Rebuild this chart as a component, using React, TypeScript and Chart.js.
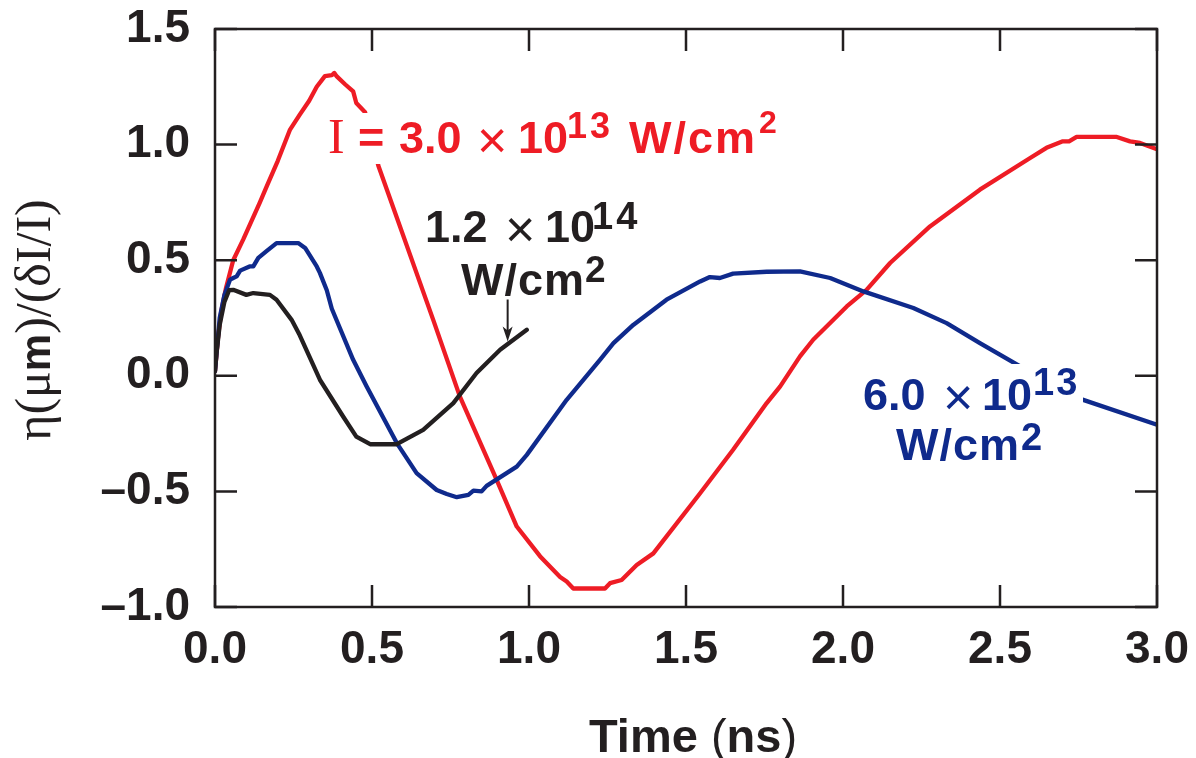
import React, { useEffect, useRef } from "react";
import { Chart, registerables } from "chart.js";

Chart.register(...registerables);

// Axis ticks
const xTickValues = [0, 0.5, 1.0, 1.5, 2.0, 2.5, 3.0];
const xTickLabels = ["0.0", "0.5", "1.0", "1.5", "2.0", "2.5", "3.0"];
const yTickValues = [-1.0, -0.5, 0.0, 0.5, 1.0, 1.5];
const yTickLabels = ["\u20131.0", "\u20130.5", "0.0", "0.5", "1.0", "1.5"];

// I = 3.0 x 10^13 W/cm^2
const redTime = [0, 0.01, 0.02, 0.035, 0.058, 0.09, 0.143, 0.165, 0.2, 0.239, 0.27, 0.3, 0.324, 0.35, 0.372, 0.38, 0.387, 0.415, 0.44, 0.45, 0.478, 0.52, 0.695, 0.78, 0.897, 0.961, 1.035, 1.099, 1.12, 1.141, 1.242, 1.258, 1.295, 1.343, 1.396, 1.545, 1.65, 1.757, 1.8, 1.863, 1.905, 2.012, 2.075, 2.15, 2.277, 2.436, 2.596, 2.648, 2.7, 2.72, 2.744, 2.872, 2.914, 2.946, 3.0];
const redEta = [0.02, 0.17, 0.28, 0.38, 0.5, 0.59, 0.75, 0.82, 0.93, 1.065, 1.13, 1.19, 1.25, 1.296, 1.3, 1.31, 1.296, 1.26, 1.23, 1.18, 1.14, 0.91, 0.242, -0.09, -0.45, -0.652, -0.78, -0.87, -0.89, -0.92, -0.92, -0.897, -0.883, -0.818, -0.768, -0.508, -0.32, -0.118, -0.046, 0.084, 0.156, 0.3, 0.372, 0.488, 0.646, 0.805, 0.942, 0.986, 1.014, 1.014, 1.033, 1.033, 1.014, 1.007, 0.98];

// 6.0 x 10^13 W/cm^2
const blueTime = [0, 0.005, 0.015, 0.03, 0.048, 0.058, 0.069, 0.08, 0.11, 0.122, 0.138, 0.165, 0.196, 0.265, 0.287, 0.324, 0.334, 0.356, 0.372, 0.44, 0.483, 0.579, 0.642, 0.706, 0.738, 0.77, 0.807, 0.823, 0.849, 0.865, 0.961, 0.993, 1.12, 1.226, 1.269, 1.332, 1.438, 1.545, 1.576, 1.608, 1.65, 1.757, 1.863, 1.959, 2.065, 2.224, 2.33, 2.436, 2.574, 2.765, 3.0];
const blueEta = [0.02, 0.1, 0.25, 0.35, 0.416, 0.423, 0.43, 0.455, 0.473, 0.473, 0.51, 0.54, 0.574, 0.574, 0.553, 0.473, 0.445, 0.37, 0.29, 0.069, -0.046, -0.291, -0.421, -0.494, -0.511, -0.525, -0.515, -0.497, -0.5, -0.476, -0.393, -0.342, -0.104, 0.069, 0.141, 0.22, 0.329, 0.408, 0.427, 0.423, 0.442, 0.45, 0.452, 0.423, 0.365, 0.293, 0.228, 0.141, 0.033, -0.104, -0.212];

// 1.2 x 10^14 W/cm^2
const blackTime = [0, 0.005, 0.015, 0.03, 0.045, 0.058, 0.1, 0.122, 0.175, 0.196, 0.244, 0.27, 0.334, 0.408, 0.45, 0.494, 0.579, 0.663, 0.759, 0.833, 0.908, 0.993];
const blackEta = [0.02, 0.1, 0.22, 0.32, 0.37, 0.372, 0.35, 0.358, 0.35, 0.329, 0.242, 0.175, -0.017, -0.176, -0.263, -0.296, -0.296, -0.234, -0.118, 0.012, 0.113, 0.199];

// Arrow pointing at the 1.2 x 10^14 curve (time, tail eta, tip eta)
const arrowTime = 0.932;
const arrowFrom = 0.33;
const arrowTo = 0.148;

const RED = "#ee1c25";
const BLUE = "#0f2a8c";
const INK = "#231f20";

const SANS = "'Liberation Sans', Arial, Helvetica, sans-serif";
const SERIF = "'Liberation Serif', 'Times New Roman', serif";

type Run = { text: string; dx: number; font: string; dy?: number; spacing?: number };

function drawRuns(ctx: CanvasRenderingContext2D, runs: Run[], x: number, y: number, color: string) {
  ctx.save();
  ctx.fillStyle = color;
  ctx.textBaseline = "alphabetic";
  ctx.textAlign = "left";
  for (const r of runs) {
    ctx.font = r.font;
    (ctx as any).letterSpacing = `${r.spacing || 0}px`;
    ctx.fillText(r.text, x + r.dx, y + (r.dy || 0));
  }
  (ctx as any).letterSpacing = "0px";
  ctx.restore();
}

function drawFlow(ctx: CanvasRenderingContext2D, runs: { text: string; font: string }[], cx: number, y: number) {
  let w = 0;
  for (const r of runs) {
    ctx.font = r.font;
    w += ctx.measureText(r.text).width;
  }
  let x = cx - w / 2;
  for (const r of runs) {
    ctx.font = r.font;
    ctx.fillText(r.text, x, y);
    x += ctx.measureText(r.text).width;
  }
}

const pts = (xs: number[], ys: number[]) => xs.map((x, i) => ({ x, y: ys[i] }));

const decor = {
  id: "decor",
  afterDatasetsDraw(chart: any) {
    const { ctx, chartArea: a, scales } = chart;
    const xs = scales.x;
    const ys = scales.y;

    // white boxes behind the curve labels
    ctx.save();
    ctx.fillStyle = "#ffffff";
    ctx.fillRect(322, 113, 470, 51);
    ctx.fillRect(858, 364, 225, 50);
    ctx.restore();

    const b45 = `bold 45px ${SANS}`;
    const times = `52px ${SANS}`;

    // I = 3.0 x 10^13 W/cm^2
    drawRuns(ctx, [
      { text: "I", dx: 0, font: `50px ${SERIF}` },
      { text: "=", dx: 30, font: b45 },
      { text: "3.0", dx: 71, font: b45 },
      { text: "\u00d7", dx: 149, font: times, dy: 5 },
      { text: "10", dx: 190, font: b45 },
      { text: "13", dx: 239, font: `bold 36px ${SANS}`, dy: -15, spacing: 3 },
      { text: "W/cm", dx: 301, font: b45, spacing: 2 },
      { text: "2", dx: 431, font: `bold 32px ${SANS}`, dy: -20 },
    ], 328, 153, RED);

    // 1.2 x 10^14 W/cm^2
    drawRuns(ctx, [
      { text: "1.2", dx: 0, font: b45 },
      { text: "\u00d7", dx: 80, font: times, dy: 5 },
      { text: "10", dx: 120, font: b45 },
      { text: "14", dx: 167, font: `bold 38px ${SANS}`, dy: -13, spacing: 3 },
    ], 425, 242, INK);
    drawRuns(ctx, [
      { text: "W/cm", dx: 0, font: b45, spacing: 1 },
      { text: "2", dx: 124, font: `bold 37px ${SANS}`, dy: -13 },
    ], 461, 295, INK);

    // 6.0 x 10^13 W/cm^2
    drawRuns(ctx, [
      { text: "6.0", dx: 0, font: b45 },
      { text: "\u00d7", dx: 80, font: times, dy: 5 },
      { text: "10", dx: 119, font: b45 },
      { text: "13", dx: 170, font: `bold 38px ${SANS}`, dy: -15, spacing: 2 },
    ], 863, 410, BLUE);
    drawRuns(ctx, [
      { text: "W/cm", dx: 0, font: b45, spacing: 1 },
      { text: "2", dx: 125, font: `bold 38px ${SANS}`, dy: -10 },
    ], 896, 460, BLUE);

    // arrow
    const ax = xs.getPixelForValue(arrowTime);
    const ay0 = ys.getPixelForValue(arrowFrom);
    const ay1 = ys.getPixelForValue(arrowTo);
    ctx.save();
    ctx.strokeStyle = INK;
    ctx.fillStyle = INK;
    ctx.lineWidth = 2;
    ctx.beginPath();
    ctx.moveTo(ax, ay0);
    ctx.lineTo(ax, ay1 - 10);
    ctx.stroke();
    ctx.beginPath();
    ctx.moveTo(ax, ay1);
    ctx.lineTo(ax - 5, ay1 - 15);
    ctx.lineTo(ax, ay1 - 11);
    ctx.lineTo(ax + 5, ay1 - 15);
    ctx.closePath();
    ctx.fill();
    ctx.restore();

    // frame with inward ticks on all four sides
    const tick = 22;
    ctx.save();
    ctx.strokeStyle = INK;
    ctx.lineWidth = 2.5;
    ctx.strokeRect(a.left, a.top, a.right - a.left, a.bottom - a.top);
    ctx.beginPath();
    for (const v of xTickValues) {
      const px = xs.getPixelForValue(v);
      ctx.moveTo(px, a.bottom);
      ctx.lineTo(px, a.bottom - tick);
      ctx.moveTo(px, a.top);
      ctx.lineTo(px, a.top + tick);
    }
    for (const v of yTickValues) {
      const py = ys.getPixelForValue(v);
      ctx.moveTo(a.left, py);
      ctx.lineTo(a.left + tick, py);
      ctx.moveTo(a.right, py);
      ctx.lineTo(a.right - tick, py);
    }
    ctx.stroke();
    ctx.restore();

    // x axis title
    ctx.save();
    ctx.fillStyle = INK;
    ctx.textBaseline = "alphabetic";
    drawFlow(ctx, [
      { text: "Time ", font: `bold 47px ${SANS}` },
      { text: "(", font: `47px ${SANS}` },
      { text: "ns", font: `bold 47px ${SANS}` },
      { text: ")", font: `47px ${SANS}` },
    ], 693, 752);
    ctx.restore();

    // y axis title
    ctx.save();
    ctx.fillStyle = INK;
    ctx.textBaseline = "alphabetic";
    ctx.translate(50, (a.top + a.bottom) / 2 + 2);
    ctx.rotate(-Math.PI / 2);
    const s50 = `50px ${SERIF}`;
    drawFlow(ctx, [
      { text: "\u03b7(\u03bc", font: s50 },
      { text: "m", font: `bold 42px ${SANS}` },
      { text: ")/(\u03b4I/I)", font: s50 },
    ], 0, 0);
    ctx.restore();
  },
};

export default function App() {
  const canvasRef = useRef<HTMLCanvasElement | null>(null);

  useEffect(() => {
    if (!canvasRef.current) return;
    const tickFont = { family: SANS, size: 46, weight: "bold" as const };
    const chart = new Chart(canvasRef.current, {
      type: "scatter",
      data: {
        datasets: [
          { label: "1.2e14", data: pts(blackTime, blackEta), borderColor: INK },
          { label: "6.0e13", data: pts(blueTime, blueEta), borderColor: BLUE },
          { label: "3.0e13", data: pts(redTime, redEta), borderColor: RED },
        ].map((d) => ({
          ...d,
          showLine: true,
          borderWidth: 4.3,
          pointRadius: 0,
          pointHoverRadius: 0,
          tension: 0,
          borderJoinStyle: "round" as const,
          borderCapStyle: "round" as const,
          fill: false,
        })),
      },
      options: {
        animation: false,
        responsive: true,
        maintainAspectRatio: false,
        events: [],
        layout: { padding: { top: 29, right: 39, left: 0, bottom: 0 } },
        plugins: { legend: { display: false }, tooltip: { enabled: false } },
        scales: {
          x: {
            type: "linear",
            min: 0,
            max: 3,
            grid: { display: false, drawTicks: false },
            border: { display: false },
            afterFit: (s: any) => {
              s.height = 151;
              s.paddingLeft = 0;
              s.paddingRight = 0;
            },
            afterBuildTicks: (s: any) => {
              s.ticks = xTickValues.map((value) => ({ value }));
            },
            ticks: {
              padding: 16,
              color: INK,
              font: tickFont,
              maxRotation: 0,
              autoSkip: false,
              callback: (v: any) => xTickLabels[xTickValues.indexOf(Number(v))] ?? "",
            },
          },
          y: {
            type: "linear",
            min: -1,
            max: 1.5,
            grid: { display: false, drawTicks: false },
            border: { display: false },
            afterFit: (s: any) => {
              s.width = 215;
              s.paddingTop = 0;
              s.paddingBottom = 0;
            },
            afterBuildTicks: (s: any) => {
              s.ticks = yTickValues.map((value) => ({ value }));
            },
            ticks: {
              padding: 25,
              color: INK,
              font: tickFont,
              autoSkip: false,
              callback: (v: any) => yTickLabels[yTickValues.indexOf(Number(v))] ?? "",
            },
          },
        },
      },
      plugins: [decor],
    });
    return () => chart.destroy();
  }, []);

  return (
    <div style={{ position: "fixed", left: 0, top: 0, width: 1196, height: 758, background: "#ffffff" }}>
      <canvas ref={canvasRef} />
    </div>
  );
}
